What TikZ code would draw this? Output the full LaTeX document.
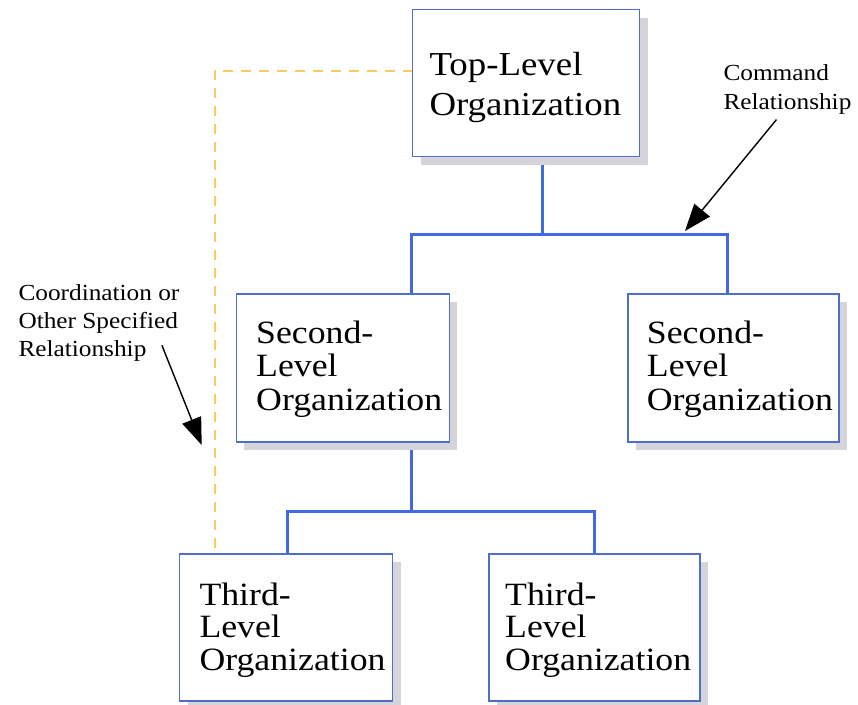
\documentclass[tikz,border=0pt]{standalone}
\usepackage{fontspec}
\setmainfont[FakeStretch=1.1]{Liberation Serif}
\usetikzlibrary{arrows.meta,shadows,backgrounds}
\definecolor{boxblue}{RGB}{80,110,200}
\definecolor{connblue}{RGB}{65,105,225}
\definecolor{dashyellow}{RGB}{245,205,95}
\definecolor{shadowgray}{RGB}{212,212,218}
\begin{document}
\begin{tikzpicture}[x=1pt,y=-1pt,
  orgbox/.style={draw=boxblue,line width=1.4pt,fill=white,anchor=north west,inner sep=0pt,
    drop shadow={shadow xshift=8pt,shadow yshift=-8pt,fill=shadowgray,opacity=1}},
  conn/.style={draw=connblue,line width=3pt},
  coordline/.style={draw=dashyellow,line width=2pt,dash pattern=on 10pt off 8pt},
  arr/.style={draw=black,line width=1.4pt,-{Triangle[length=27pt,width=20pt]}},
  toptext/.style={anchor=base west,inner sep=0pt,font=\fontsize{33.5}{40}\selectfont},
  midtext/.style={anchor=base west,inner sep=0pt,font=\fontsize{32.5}{33.4}\selectfont},
  lowtext/.style={anchor=base west,inner sep=0pt,font=\fontsize{32.5}{32.5}\selectfont},
  labeltext/.style={anchor=base west,inner sep=0pt,font=\fontsize{23}{29}\selectfont},
]
\useasboundingbox (0,0) rectangle (858,704);

% boxes
\node[orgbox,minimum width=227pt,minimum height=147pt] (top) at (412,9) {};
\node[orgbox,minimum width=213pt,minimum height=148pt] (s1) at (235.7,293.3) {};
\node[orgbox,minimum width=211pt,minimum height=148pt] (s2) at (627.3,293.3) {};
\node[orgbox,minimum width=213pt,minimum height=147pt] (t1) at (179,553.3) {};
\node[orgbox,minimum width=211pt,minimum height=147pt] (t2) at (488.3,553.3) {};

% box texts
\node[toptext] (topT) at (429.3,75) {\begin{tabular}[t]{@{}l@{}}Top-Level\\Organization\end{tabular}};
\node[midtext] (s1T) at (256,343.3) {\begin{tabular}[t]{@{}l@{}}Second-\\Level\\Organization\end{tabular}};
\node[midtext] (s2T) at (646.7,343.3) {\begin{tabular}[t]{@{}l@{}}Second-\\Level\\Organization\end{tabular}};
\node[lowtext] (t1T) at (199.3,605) {\begin{tabular}[t]{@{}l@{}}Third-\\Level\\Organization\end{tabular}};
\node[lowtext] (t2T) at (505,605) {\begin{tabular}[t]{@{}l@{}}Third-\\Level\\Organization\end{tabular}};

% labels
\node[labeltext] (cmd) at (723.3,80.7) {\begin{tabular}[t]{@{}l@{}}Command\\Relationship\end{tabular}};
\node[labeltext,font=\fontsize{23}{28.3}\selectfont] (crd) at (18.3,300) {\begin{tabular}[t]{@{}l@{}}Coordination or\\Other Specified\\Relationship\end{tabular}};

% junction points
\coordinate (bus1) at (542.7,234);
\coordinate (j1) at (411.7,234);
\coordinate (j2) at (727.7,234);
\coordinate (bus2) at (411.7,511);
\coordinate (k1) at (287.7,511);
\coordinate (k2) at (594.3,511);
\coordinate (dc) at (215,70.7);
\coordinate (cmdtip) at (685,231);
\coordinate (crdtip) at (201.7,445);

\begin{scope}[on background layer]
  \draw[conn] (top.south -| bus1) -- (bus1);
  \draw[conn] (s1.north -| j1) -- (j1) -- (j2) -- (s2.north -| j2);
  \draw[conn] (s1.south -| bus2) -- (bus2);
  \draw[conn] (t1.north -| k1) -- (k1) -- (k2) -- (t2.north -| k2);
  \draw[coordline] ([yshift=5pt]t1.north -| dc) -- (dc) -- (top.west |- dc);
\end{scope}

\draw[arr] (cmd.south) ++(-11,1) -- (cmdtip);
\draw[arr] (crd.south east) ++(-17.7,-20) -- (crdtip);
\end{tikzpicture}
\end{document}
